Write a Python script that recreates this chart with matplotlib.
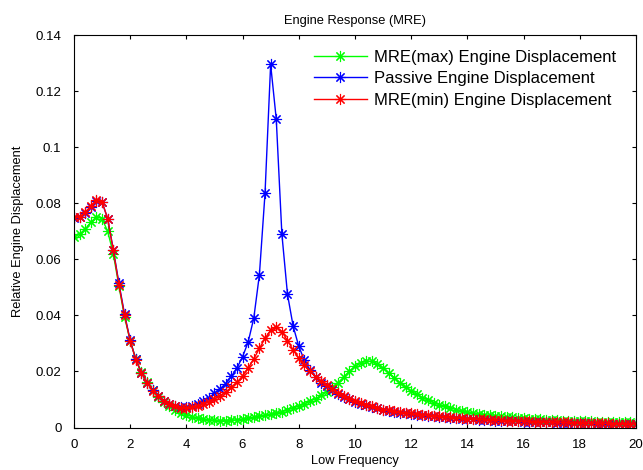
import matplotlib
matplotlib.use('Agg')
import matplotlib.pyplot as plt

# --- Data ---
freq = [0.0, 0.2, 0.4, 0.6, 0.8, 1.0, 1.2, 1.4, 1.6, 1.8,
        2.0, 2.2, 2.4, 2.6, 2.8, 3.0, 3.2, 3.4, 3.6, 3.8,
        4.0, 4.2, 4.4, 4.6, 4.8, 5.0, 5.2, 5.4, 5.6, 5.8,
        6.0, 6.2, 6.4, 6.6, 6.8, 7.0, 7.2, 7.4, 7.6, 7.8,
        8.0, 8.2, 8.4, 8.6, 8.8, 9.0, 9.2, 9.4, 9.6, 9.8,
        10.0, 10.2, 10.4, 10.6, 10.8, 11.0, 11.2, 11.4, 11.6, 11.8,
        12.0, 12.2, 12.4, 12.6, 12.8, 13.0, 13.2, 13.4, 13.6, 13.8,
        14.0, 14.2, 14.4, 14.6, 14.8, 15.0, 15.2, 15.4, 15.6, 15.8,
        16.0, 16.2, 16.4, 16.6, 16.8, 17.0, 17.2, 17.4, 17.6, 17.8,
        18.0, 18.2, 18.4, 18.6, 18.8, 19.0, 19.2, 19.4, 19.6, 19.8,
        20.0]

mre_max = [0.0680, 0.0690, 0.0708, 0.0732, 0.0752, 0.0745, 0.0700, 0.0620, 0.0505, 0.0395,
           0.0310, 0.0245, 0.0198, 0.0162, 0.0134, 0.0110, 0.0091, 0.0076, 0.0063, 0.0053,
           0.0045, 0.0039, 0.0034, 0.0030, 0.0028, 0.0026, 0.0025, 0.0025, 0.0026, 0.0028,
           0.0030, 0.0033, 0.0036, 0.0040, 0.0044, 0.0048, 0.0052, 0.0057, 0.0063, 0.0069,
           0.0076, 0.0084, 0.0093, 0.0103, 0.0115, 0.0128, 0.0143, 0.0160, 0.0180, 0.0200,
           0.0218, 0.0230, 0.0237, 0.0236, 0.0227, 0.0212, 0.0195, 0.0177, 0.0160, 0.0144,
           0.0130, 0.0118, 0.0107, 0.0097, 0.0089, 0.0082, 0.0075, 0.0069, 0.0064, 0.0060,
           0.0056, 0.0052, 0.0049, 0.0046, 0.0044, 0.0042, 0.0040, 0.0038, 0.0036, 0.0034,
           0.0033, 0.0032, 0.0030, 0.0029, 0.0028, 0.0027, 0.0026, 0.0025, 0.0025, 0.0024,
           0.0023, 0.0022, 0.0022, 0.0021, 0.0021, 0.0020, 0.0019, 0.0019, 0.0018, 0.0018,
           0.0017]

passive = [0.0748, 0.0752, 0.0765, 0.0785, 0.0808, 0.0805, 0.0745, 0.0635, 0.0515, 0.0405,
           0.0312, 0.0243, 0.0195, 0.0160, 0.0133, 0.0112, 0.0096, 0.0084, 0.0076, 0.0072,
           0.0072, 0.0076, 0.0084, 0.0094, 0.0106, 0.0122, 0.0138, 0.0157, 0.0182, 0.0212,
           0.0252, 0.0305, 0.0390, 0.0545, 0.0835, 0.1295, 0.1100, 0.0690, 0.0475, 0.0362,
           0.0290, 0.0240, 0.0205, 0.0180, 0.0160, 0.0148, 0.0134, 0.0121, 0.0110, 0.0100,
           0.0092, 0.0085, 0.0079, 0.0073, 0.0068, 0.0063, 0.0059, 0.0056, 0.0053, 0.0050,
           0.0048, 0.0046, 0.0044, 0.0042, 0.0040, 0.0038, 0.0036, 0.0035, 0.0033, 0.0032,
           0.0030, 0.0029, 0.0028, 0.0027, 0.0026, 0.0025, 0.0024, 0.0023, 0.0022, 0.0022,
           0.0021, 0.0020, 0.0020, 0.0019, 0.0018, 0.0018, 0.0017, 0.0017, 0.0016, 0.0016,
           0.0015, 0.0015, 0.0015, 0.0014, 0.0014, 0.0014, 0.0013, 0.0013, 0.0013, 0.0012,
           0.0012]

mre_min = [0.0750, 0.0752, 0.0768, 0.0790, 0.0812, 0.0805, 0.0745, 0.0632, 0.0510, 0.0400,
           0.0310, 0.0242, 0.0195, 0.0160, 0.0132, 0.0111, 0.0095, 0.0083, 0.0075, 0.0071,
           0.0071, 0.0073, 0.0077, 0.0083, 0.0092, 0.0102, 0.0113, 0.0127, 0.0143, 0.0161,
           0.0184, 0.0212, 0.0245, 0.0282, 0.0318, 0.0347, 0.0358, 0.0342, 0.0310, 0.0277,
           0.0247, 0.0222, 0.0200, 0.0181, 0.0165, 0.0150, 0.0137, 0.0124, 0.0113, 0.0103,
           0.0095, 0.0088, 0.0081, 0.0075, 0.0069, 0.0064, 0.0061, 0.0058, 0.0055, 0.0052,
           0.0050, 0.0048, 0.0046, 0.0044, 0.0042, 0.0040, 0.0038, 0.0037, 0.0035, 0.0034,
           0.0032, 0.0031, 0.0030, 0.0029, 0.0028, 0.0027, 0.0026, 0.0025, 0.0024, 0.0023,
           0.0023, 0.0022, 0.0021, 0.0021, 0.0020, 0.0019, 0.0019, 0.0018, 0.0018, 0.0017,
           0.0017, 0.0016, 0.0016, 0.0015, 0.0015, 0.0015, 0.0014, 0.0014, 0.0014, 0.0013,
           0.0013]

xticks = [0, 2, 4, 6, 8, 10, 12, 14, 16, 18, 20]
yticks = [0, 0.02, 0.04, 0.06, 0.08, 0.1, 0.12, 0.14]
ytick_labels = ['0', '0.02', '0.04', '0.06', '0.08', '0.1', '0.12', '0.14']

# --- Plot ---
plt.rcParams['font.family'] = ['Liberation Sans', 'DejaVu Sans']

fig = plt.figure(figsize=(6.43, 4.70), dpi=100)
ax = fig.add_axes([0.115, 0.0904, 0.874, 0.835])

# MATLAB-style asterisk marker
style = dict(marker=(8, 2, 0), markersize=8, linewidth=1.0, markeredgewidth=0.8)
ax.plot(freq, mre_max, color='#00ff00', label='MRE(max) Engine Displacement', **style)
ax.plot(freq, passive, color='#0000ff', label='Passive Engine Displacement', **style)
ax.plot(freq, mre_min, color='#ff0000', label='MRE(min) Engine Displacement', **style)

ax.set_xlim(0, 20)
ax.set_ylim(0, 0.14)
ax.set_xticks(xticks)
ax.set_yticks(yticks)
ax.set_yticklabels(ytick_labels)
ax.tick_params(direction='in', length=3, top=True, right=True, labelsize=9.5)
ax.tick_params(axis='x', pad=8)
ax.tick_params(axis='y', pad=9)
for sp in ax.spines.values():
    sp.set_linewidth(0.8)

ax.set_xlabel('Low Frequency', fontsize=9.3, labelpad=3.5)
ax.set_ylabel('Relative Engine Displacement', fontsize=9.3, labelpad=8)
ax.set_title('Engine Response (MRE)', fontsize=9.3, pad=8)

ax.legend(loc='upper right', bbox_to_anchor=(0.9644, 0.962), frameon=False,
          handlelength=3.2, fontsize=12, borderaxespad=0, borderpad=0,
          labelspacing=0.38, handletextpad=0.4)

plt.savefig('out.png', dpi=100)
